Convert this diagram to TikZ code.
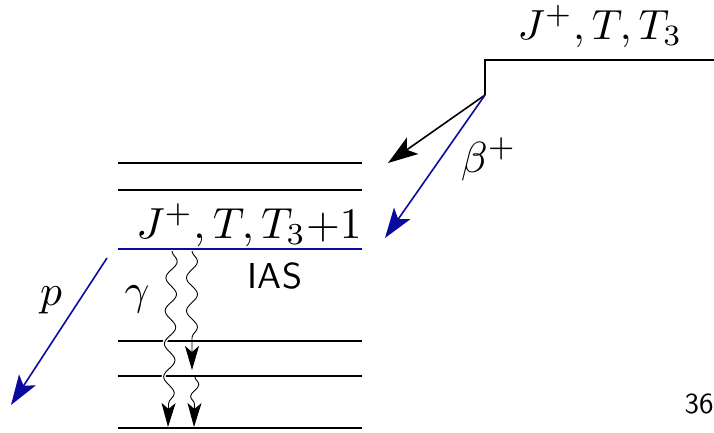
\documentclass[tikz,border=0pt]{standalone}
\usetikzlibrary{arrows.meta,decorations.pathmorphing}
\definecolor{lvlblue}{RGB}{10,10,160}
\begin{document}
\begin{tikzpicture}[x=1pt,y=-1pt,
  level/.style={line width=2pt},
  ias/.style={line width=2.4pt,draw=lvlblue},
  bigtxt/.style={inner sep=0pt,scale=4.35},
  decay/.style={line width=1.6pt,-{Stealth[length=30pt,width=20pt,inset=7pt]}},
  gam/.style={line width=0.9pt,-{Stealth[length=24pt,width=14pt,inset=6pt]},
    decorate,decoration={snake,amplitude=5.5pt,segment length=33pt,post length=20pt}},
  halo/.style={preaction={draw=white,line width=4pt,-}}]
\useasboundingbox (0,0) rectangle (714,432);
% parent level
\coordinate (pR) at (714,60);
\coordinate (pL) at (485,60);
\coordinate (pS) at (485,95);
\draw[line width=1.5pt] (pR) -- (pL) -- (pS);
\node[bigtxt,scale=0.97,anchor=base] (plab) at (600,39) {$J^+,T,T_3$};
% daughter levels
\coordinate (l1a) at (118,163); \coordinate (l1b) at (362,163);
\coordinate (l2a) at (118,190); \coordinate (l2b) at (362,190);
\coordinate (iasa) at (118,249); \coordinate (iasb) at (362,249);
\coordinate (l3a) at (118,341); \coordinate (l3b) at (362,341);
\coordinate (l4a) at (118,376); \coordinate (l4b) at (362,376);
\coordinate (l5a) at (118,428); \coordinate (l5b) at (362,428);
\draw[level] (l1a) -- (l1b);
\draw[level] (l2a) -- (l2b);
\draw[level] (l3a) -- (l3b);
\draw[level] (l4a) -- (l4b);
\draw[level,line width=2.6pt] (l5a) -- (l5b);
\draw[ias] (iasa) -- (iasb);
\node[bigtxt,anchor=base] (dlab) at (249,238) {$J^+,T,T_3{+}1$};
\node[inner sep=0pt,anchor=base,scale=3.6,font=\sffamily] (iaslab) at (275,288) {IAS};
% beta decays
\coordinate (b1) at (388,163);
\coordinate (b2) at (385,238);
\draw[decay] (pS) -- (b1);
\draw[decay,draw=lvlblue,fill=lvlblue] (pS) -- (b2);
\node[bigtxt,anchor=base west] (blab) at (460,172) {$\beta^+$};
% proton
\coordinate (p0) at (107,258);
\coordinate (p1) at (11,405);
\draw[decay,draw=lvlblue,fill=lvlblue] (p0) -- (p1);
\node[bigtxt,anchor=base] (plabel) at (51,305) {$p$};
% gammas
\coordinate (g1s) at (172,251);
\coordinate (g1e) at (168,427);
\coordinate (g2s) at (192,251);
\coordinate (g2e) at (192,370);
\coordinate (g3s) at (195,377);
\coordinate (g3e) at (194,427);
\draw[gam,halo] (g1s) -- (g1e);
\draw[gam] (g2s) -- (g2e);
\draw[gam,decoration={snake,amplitude=4pt,segment length=24pt,post length=20pt}] (g3s) -- (g3e);
\node[bigtxt,anchor=base] (glab) at (137,304) {$\gamma$};
% page number
\node[inner sep=0pt,anchor=base,scale=2.9,font=\sffamily] (pnum) at (699,413) {36};
\end{tikzpicture}
\end{document}
